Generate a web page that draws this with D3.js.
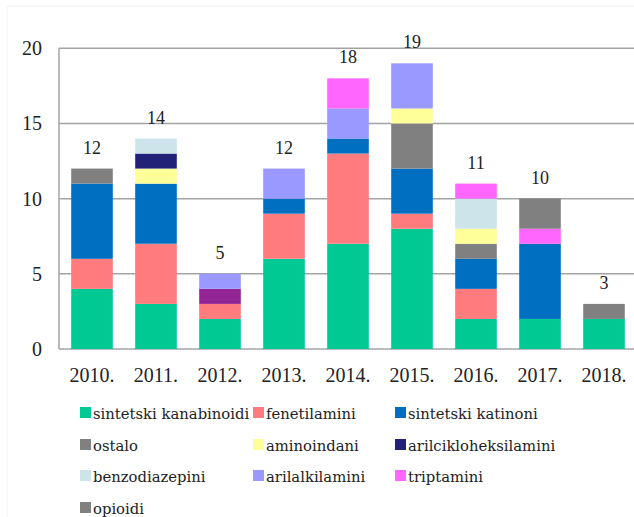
<!DOCTYPE html>
<html>
<head>
<meta charset="utf-8">
<script src="https://cdn.jsdelivr.net/npm/d3@7"></script>
<style>
  body { margin: 0; background: #fff; }
</style>
</head>
<body>
<script>
const years = ['2010.', '2011.', '2012.', '2013.', '2014.', '2015.', '2016.', '2017.', '2018.']

// series values per year, bottom to top of the stack
const kanabinoidi   = [4, 3, 2, 6, 7, 8, 2, 2, 2]
const fenetilamini  = [2, 4, 1, 3, 6, 1, 2, 0, 0]
const katinoni      = [5, 4, 0, 1, 1, 3, 2, 5, 0]
const ostalo        = [1, 0, 0, 0, 0, 3, 1, 0, 0]
const aminoindani   = [0, 1, 0, 0, 0, 1, 1, 0, 0]
const arilcikloheks = [0, 1, 0, 0, 0, 0, 0, 0, 0]
const neoznaceno    = [0, 0, 1, 0, 0, 0, 0, 0, 0]
const benzodiazepini = [0, 1, 0, 0, 0, 0, 2, 0, 0]
const arilalkilamini = [0, 0, 1, 2, 2, 3, 0, 0, 0]
const triptamini    = [0, 0, 0, 0, 2, 0, 1, 1, 0]
const opioidi       = [0, 0, 0, 0, 0, 0, 0, 2, 1]

const yTicks = [0, 5, 10, 15, 20]

const series = [
  { key: 'kan', name: 'sintetski kanabinoidi', color: '#00c994', values: kanabinoidi },
  { key: 'fen', name: 'fenetilamini', color: '#ff7b7e', values: fenetilamini },
  { key: 'kat', name: 'sintetski katinoni', color: '#006fc1', values: katinoni },
  { key: 'ost', name: 'ostalo', color: '#808080', values: ostalo },
  { key: 'ami', name: 'aminoindani', color: '#ffff99', values: aminoindani },
  { key: 'ari', name: 'arilcikloheksilamini', color: '#212178', values: arilcikloheks },
  { key: 'neo', name: null, color: '#922493', values: neoznaceno },
  { key: 'ben', name: 'benzodiazepini', color: '#cde5ea', values: benzodiazepini },
  { key: 'arl', name: 'arilalkilamini', color: '#9a99ff', values: arilalkilamini },
  { key: 'tri', name: 'triptamini', color: '#ff66fe', values: triptamini },
  { key: 'opi', name: 'opioidi', color: '#808080', values: opioidi }
]

const rows = years.map((y, i) => {
  let r = { year: y }
  series.forEach((s) => { r[s.key] = s.values[i] })
  return r
})
const totals = years.map((y, i) => d3.sum(series, (s) => s.values[i]))

const W = 634, H = 517
const plot = { left: 59, right: 636, top: 48.3, bottom: 349 }
const serif = 'Liberation Serif, serif'
const legendFont = 'DejaVu Serif, serif'

const svg = d3.select('body').append('svg')
  .attr('width', W)
  .attr('height', H)

// faint outer frame
svg.append('rect')
  .attr('x', 7).attr('y', 6)
  .attr('width', W + 10).attr('height', H + 10)
  .attr('fill', 'none')
  .attr('stroke', '#f3f3f3')

const x = d3.scaleBand()
  .domain(years)
  .range([plot.left + 1, plot.right])
  .paddingInner(0.35)
  .paddingOuter(0.175)

const y = d3.scaleLinear()
  .domain([0, 20])
  .range([plot.bottom, plot.top])

// gridlines
svg.append('g')
  .selectAll('line')
  .data(yTicks)
  .enter().append('line')
    .attr('x1', plot.left)
    .attr('x2', W)
    .attr('y1', (d) => y(d))
    .attr('y2', (d) => y(d))
    .attr('stroke', '#a3a3a3')
    .attr('stroke-width', 1.5)

svg.append('line')
  .attr('x1', plot.left).attr('x2', plot.left)
  .attr('y1', y(20)).attr('y2', y(0))
  .attr('stroke', '#a3a3a3')
  .attr('stroke-width', 1.5)

// y tick labels
svg.append('g')
  .selectAll('text')
  .data(yTicks)
  .enter().append('text')
    .attr('x', 42)
    .attr('y', (d) => y(d) + 7)
    .attr('text-anchor', 'end')
    .style('font-family', serif)
    .style('font-size', '20px')
    .attr('fill', '#222')
    .text((d) => d)

// x labels
svg.append('g')
  .selectAll('text')
  .data(years)
  .enter().append('text')
    .attr('x', (d) => x(d) + x.bandwidth() / 2)
    .attr('y', plot.bottom + 33)
    .attr('text-anchor', 'middle')
    .style('font-family', serif)
    .style('font-size', '20px')
    .attr('fill', '#222')
    .text((d) => d)

const stack = d3.stack().keys(series.map((s) => s.key))
const stacked = stack(rows)

svg.append('g')
  .selectAll('g')
  .data(stacked)
  .enter().append('g')
    .attr('fill', (d, i) => series[i].color)
  .selectAll('rect')
  .data((d) => d.filter((p) => p[1] > p[0]))
  .enter().append('rect')
    .attr('x', (d) => x(d.data.year))
    .attr('width', x.bandwidth())
    .attr('y', (d) => y(d[1]))
    .attr('height', (d) => y(d[0]) - y(d[1]))

// totals
svg.append('g')
  .selectAll('text')
  .data(years)
  .enter().append('text')
    .attr('x', (d) => x(d) + x.bandwidth() / 2)
    .attr('y', (d, i) => y(totals[i]) - 15)
    .attr('text-anchor', 'middle')
    .style('font-family', serif)
    .style('font-size', '18px')
    .attr('fill', '#222')
    .text((d, i) => totals[i])

// legend
const legendItems = series.filter((s) => s.name)
const colX = [80, 253, 395]
const rowY = [413, 445, 476, 508]

const leg = svg.append('g')
  .selectAll('g')
  .data(legendItems)
  .enter().append('g')
    .attr('transform', (d, i) => 'translate(' + [colX[i % 3], rowY[Math.floor(i / 3)]] + ')')

leg.append('rect')
  .attr('x', 0).attr('y', -6)
  .attr('width', 11).attr('height', 11)
  .attr('fill', (d) => d.color)

leg.append('text')
  .attr('x', 13)
  .attr('y', 6)
  .style('font-family', legendFont)
  .style('font-size', '14.8px')
  .attr('fill', '#222')
  .text((d) => d.name)
</script>
</body>
</html>
